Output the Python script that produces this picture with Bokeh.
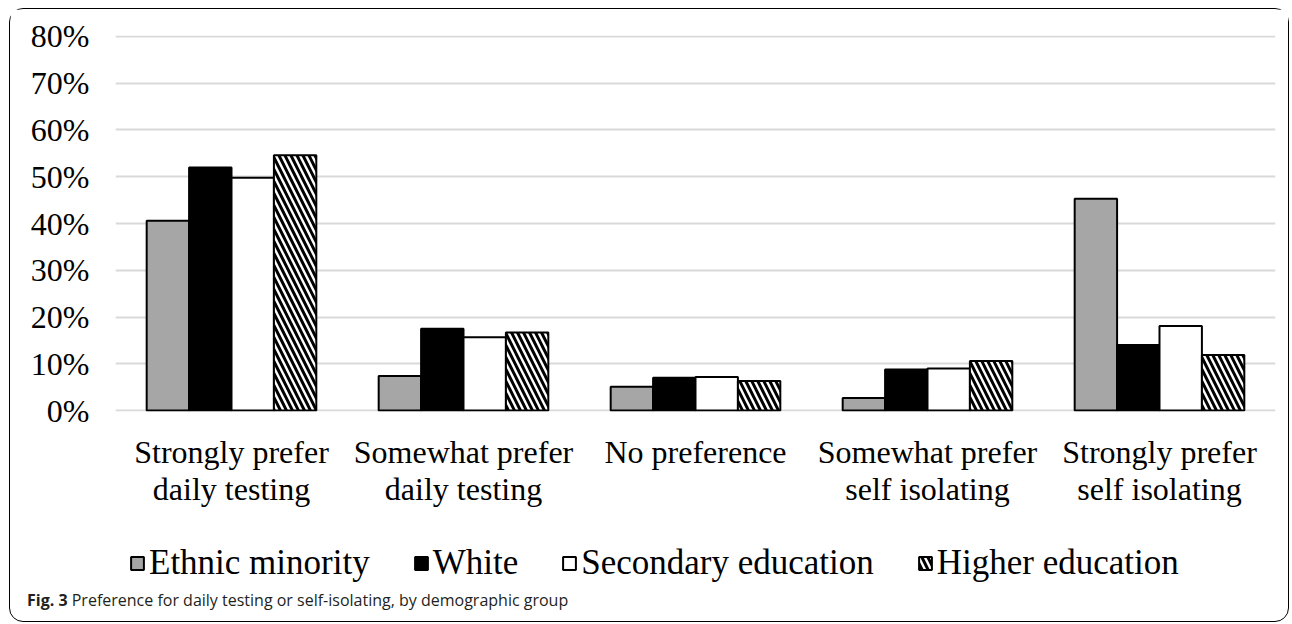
from bokeh.plotting import figure
from bokeh.models import (FactorRange, ColumnDataSource, Legend, LegendItem,
                          NumeralTickFormatter, FixedTicker, Div)
from bokeh.transform import dodge
from bokeh.layouts import column
from bokeh.embed import file_html
from bokeh.resources import INLINE

categories = ["Strongly prefer\ndaily testing", "Somewhat prefer\ndaily testing",
              "No preference", "Somewhat prefer\nself isolating",
              "Strongly prefer\nself isolating"]
series_names = ["Ethnic minority", "White", "Secondary education", "Higher education"]
ethnic_minority = [0.406, 0.074, 0.051, 0.027, 0.453]
white = [0.520, 0.175, 0.070, 0.088, 0.140]
secondary_education = [0.498, 0.157, 0.072, 0.090, 0.181]
higher_education = [0.546, 0.167, 0.063, 0.106, 0.119]
y_ticks = [0, 0.1, 0.2, 0.3, 0.4, 0.5, 0.6, 0.7, 0.8]

source = ColumnDataSource(dict(cat=categories, em=ethnic_minority, wh=white,
                               se=secondary_education, he=higher_education))

SERIF = "Liberation Serif"

p = figure(x_range=FactorRange(*categories), y_range=(-0.002, 0.802),
           width=1278, height=527, output_backend="svg", toolbar_location=None,
           min_border_left=105, min_border_right=13, min_border_top=26,
           min_border_bottom=125)
p.outline_line_color = None
p.background_fill_color = "white"
p.border_fill_color = "white"

bw = 0.1828
offs = [-1.5 * bw, -0.5 * bw, 0.5 * bw, 1.5 * bw]
cols = ["em", "wh", "se", "he"]
fills = ["#a6a6a6", "black", "white", "white"]
HATCH = dict(hatch_pattern="left_diagonal_line", hatch_color="black",
             hatch_scale=12, hatch_weight=3)
for i, c in enumerate(cols):
    kw = HATCH if c == "he" else {}
    p.vbar(x=dodge("cat", offs[i], range=p.x_range), top=c, bottom=0,
           width=bw, source=source, fill_color=fills[i],
           line_color="black", line_width=2, **kw)

p.yaxis.ticker = FixedTicker(ticks=y_ticks)
p.yaxis.formatter = NumeralTickFormatter(format="0%")
p.yaxis.axis_line_color = None
p.yaxis.major_tick_line_color = None
p.yaxis.minor_tick_line_color = None
p.yaxis.major_tick_out = 0
p.yaxis.major_label_standoff = 26
p.yaxis.major_label_text_font = SERIF
p.yaxis.major_label_text_font_size = "32px"
p.yaxis.major_label_text_color = "black"

p.xaxis.axis_line_color = None
p.xaxis.major_tick_line_color = None
p.xaxis.minor_tick_line_color = None
p.xaxis.major_tick_out = 0
p.xaxis.major_label_standoff = 22
p.xaxis.major_label_text_font = SERIF
p.xaxis.major_label_text_font_size = "32px"
p.xaxis.major_label_text_color = "black"
p.xaxis.major_label_text_line_height = 1.03

p.xgrid.grid_line_color = None
p.ygrid.grid_line_color = "#d9d9d9"
p.ygrid.grid_line_width = 2

# legend strip (proxy glyphs with no drawable value); its frame aligns with p's frame
lf = figure(x_range=(0, 1), y_range=(0, 1), width=1278, height=53,
            output_backend="svg", toolbar_location=None, min_border=0)
lf.axis.visible = False
lf.grid.visible = False
lf.outline_line_color = None
proxy = []
for i, c in enumerate(cols):
    kw = HATCH if c == "he" else {}
    proxy.append(lf.vbar(x=[0.5], top=[float("nan")], bottom=[float("nan")], width=0.1,
                         fill_color=fills[i], line_color="black", line_width=2, **kw))

legend = Legend(items=[LegendItem(label=n, renderers=[r]) for n, r in zip(series_names, proxy)],
                orientation="horizontal", location="center_left")
legend.label_text_font = SERIF
legend.label_text_font_size = "35px"
legend.label_text_color = "black"
legend.glyph_width = 16
legend.glyph_height = 16
legend.label_standoff = 4
legend.spacing = 43
legend.border_line_color = None
legend.background_fill_alpha = 0
legend.margin = 14
legend.padding = 2
lf.add_layout(legend, "center")

caption = Div(text='<span style="position:relative; top:-4px"><b>Fig. 3</b> Preference for daily testing or self-isolating, by demographic group</span>',
              width=1200, height=22,
              styles={"font-family": "Open Sans", "font-size": "16px", "color": "#231f20",
                      "padding-left": "12px", "line-height": "20px"})

layout = column(p, lf, caption, margin=(8, 0, 0, 9),
                styles={"border": "1px solid black", "border-radius": "14px",
                        "background-color": "white"})

open("out.html", "w").write(file_html(layout, INLINE))
